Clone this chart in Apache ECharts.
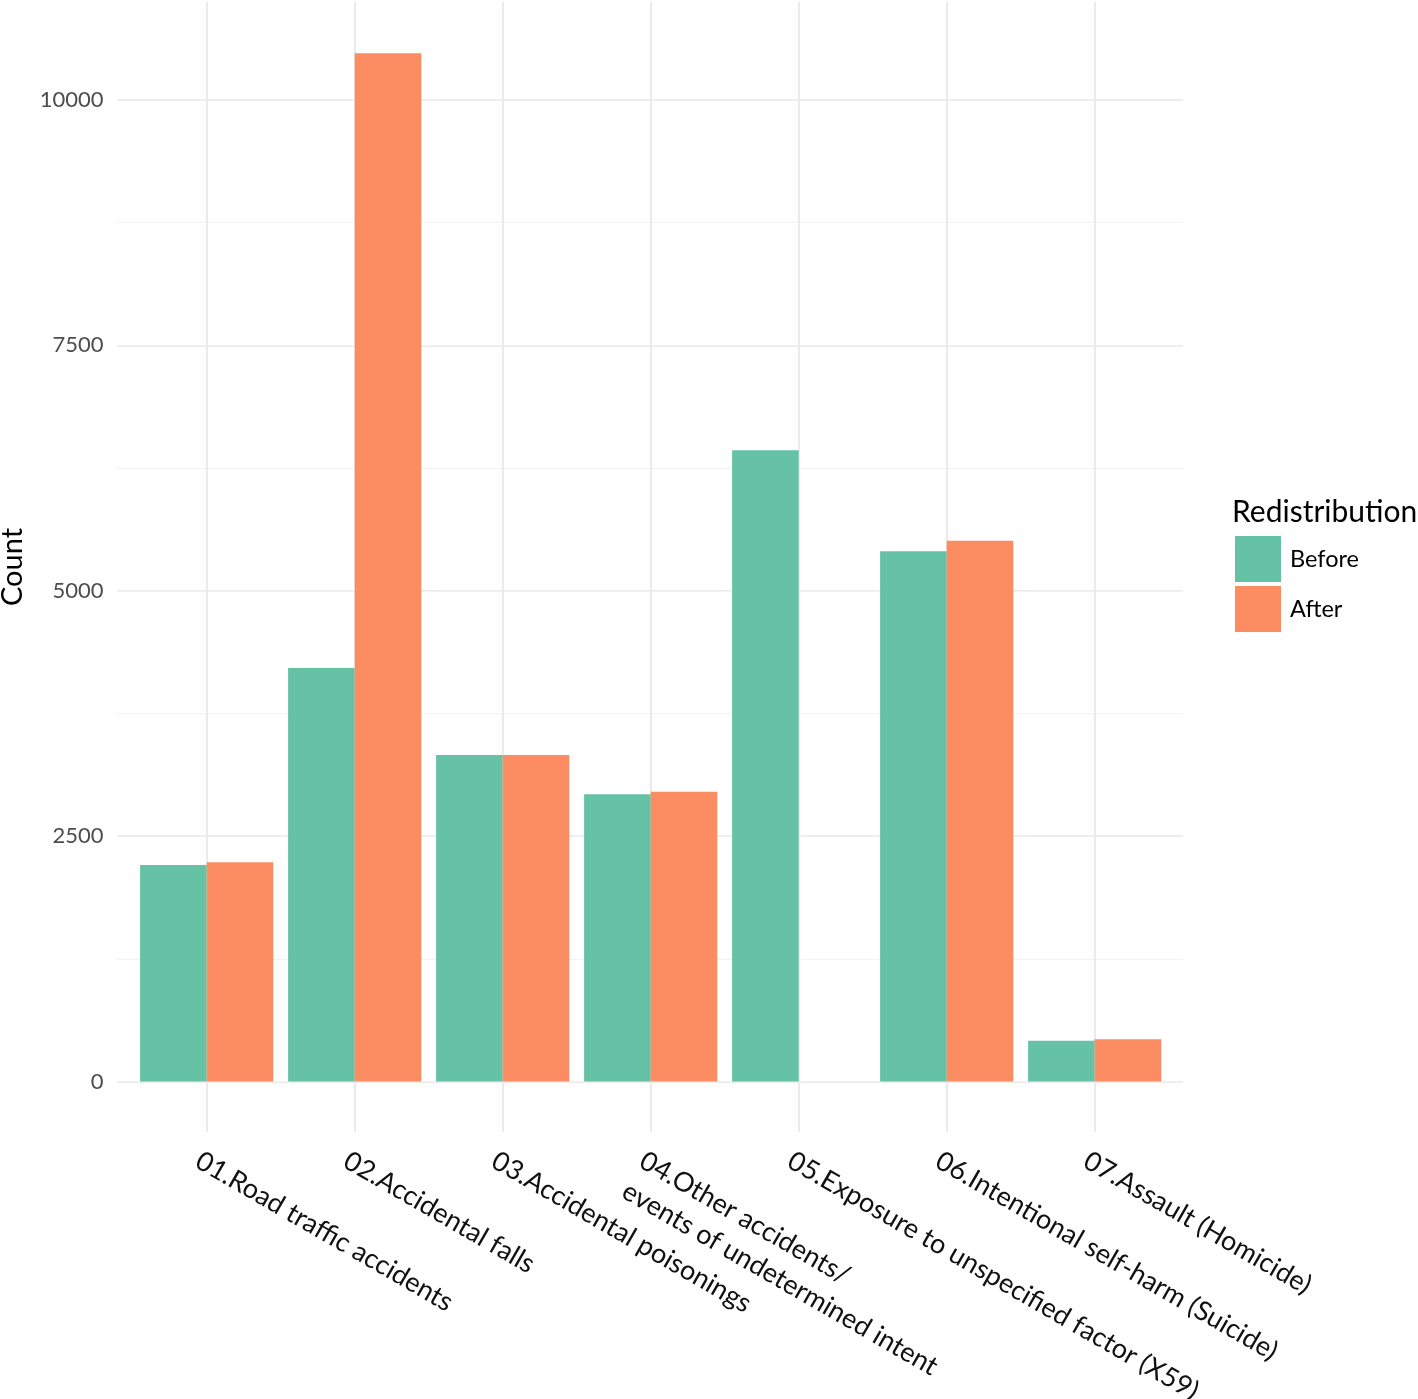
<!DOCTYPE html>
<html>
<head>
<meta charset="utf-8">
<script src="https://cdn.jsdelivr.net/npm/echarts@6/dist/echarts.min.js"></script>
<style>
html,body{margin:0;padding:0;background:#fff;}
#chart{width:1418px;height:1399px;}
</style>
</head>
<body>
<div id="chart"></div>
<script>
const categories = [
  '01.Road traffic accidents',
  '02.Accidental falls',
  '03.Accidental poisonings',
  '04.Other accidents/\nevents of undetermined intent',
  '05.Exposure to unspecified factor (X59)',
  '06.Intentional self-harm (Suicide)',
  '07.Assault (Homicide)'
];
const seriesNames = ['Before', 'After'];
const beforeValues = [2206, 4213, 3327, 2926, 6431, 5402, 416];
const afterValues = [2233, 10476, 3327, 2953, 0, 5510, 430];
const majorInterval = 2500;
const minorInterval = 1250;
const yMax = 11000;

const FONT = 'Lato';
const pxPerUnit = 0.09815;
const zeroY = 1081.5;
const topY = zeroY - yMax * pxPerUnit;
const plotH = yMax * pxPerUnit;

const chart = echarts.init(document.getElementById('chart'), null, {renderer: 'canvas'});
chart.setOption({
  backgroundColor: '#ffffff',
  animation: false,
  title: {
    text: 'Redistribution',
    left: 1232,
    top: 497,
    padding: 0,
    textStyle: {fontFamily: FONT, fontSize: 30, fontWeight: 'normal', color: '#000'}
  },
  legend: {
    left: 1235,
    top: 536,
    padding: 0,
    orient: 'vertical',
    icon: 'rect',
    itemWidth: 46,
    itemHeight: 46,
    itemGap: 4,
    data: seriesNames,
    textStyle: {fontFamily: FONT, fontSize: 23.5, color: '#000', padding: [0, 0, 0, 4]}
  },
  grid: [
    {left: 117.5, top: topY, width: 1065.5, height: plotH, containLabel: false, outerBoundsMode: 'none'},
    {left: 206.7, top: 2, width: 888, height: 1130, containLabel: false, outerBoundsMode: 'none'},
    {left: 132.7, top: topY, width: 1036, height: plotH, containLabel: false, outerBoundsMode: 'none'}
  ],
  xAxis: [
    {gridIndex: 0, type: 'value', show: false, min: 0, max: 1},
    {gridIndex: 1, type: 'category', boundaryGap: false, data: categories,
      axisLine: {show: false}, axisTick: {show: false, interval: 0}, axisLabel: {show: false, interval: 0},
      splitLine: {show: true, interval: 0, lineStyle: {color: '#ebebeb', width: 2}}},
    {gridIndex: 2, type: 'category', data: categories,
      axisLine: {show: false}, axisTick: {show: false},
      splitLine: {show: false},
      axisLabel: {interval: 0, rotate: -30, margin: 62, verticalAlign: 'top', align: 'left',
        fontFamily: FONT, fontSize: 27, lineHeight: 35, color: '#111'}}
  ],
  yAxis: [
    {gridIndex: 0, type: 'value', min: 0, max: yMax, interval: majorInterval,
      axisLine: {show: false}, axisTick: {show: false},
      axisLabel: {show: true, showMaxLabel: false, margin: 14, fontFamily: FONT, fontSize: 22, color: '#4d4d4d',
        formatter: function (v) { return String(v); }},
      splitLine: {show: true, showMaxLine: false, lineStyle: {color: '#ebebeb', width: 2}}},
    {gridIndex: 0, type: 'value', min: 0, max: yMax, interval: minorInterval, position: 'left',
      axisLine: {show: false}, axisTick: {show: false}, axisLabel: {show: false},
      splitLine: {show: true, showMaxLine: false, lineStyle: {color: '#f2f2f2', width: 1}}},
    {gridIndex: 1, type: 'value', min: 0, max: 1,
      axisLine: {show: false}, axisTick: {show: false}, axisLabel: {show: false}, splitLine: {show: false},
      name: 'Count', nameLocation: 'middle', nameRotate: 90, nameGap: 180,
      nameTextStyle: {fontFamily: FONT, fontSize: 29, color: '#000'}},
    {gridIndex: 2, type: 'value', min: 0, max: yMax, show: false}
  ],
  series: [
    {name: seriesNames[0], type: 'bar', xAxisIndex: 2, yAxisIndex: 3, data: beforeValues,
      barGap: '0%', barCategoryGap: '10%', itemStyle: {color: '#66c2a5'}},
    {name: seriesNames[1], type: 'bar', xAxisIndex: 2, yAxisIndex: 3, data: afterValues,
      barGap: '0%', barCategoryGap: '10%', itemStyle: {color: '#fc8d62'}}
  ]
});
</script>
</body>
</html>
